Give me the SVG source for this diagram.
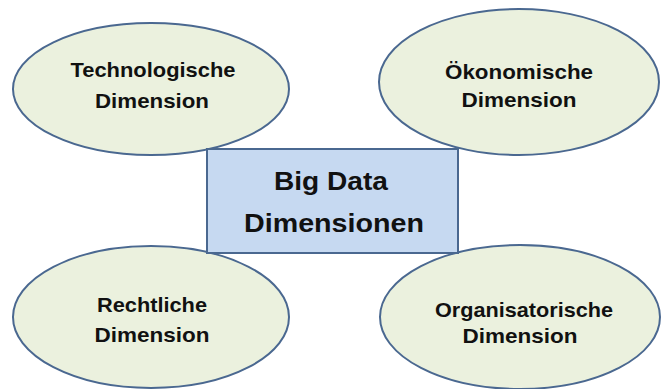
<svg xmlns="http://www.w3.org/2000/svg" width="661" height="389" viewBox="0 0 661 389">
<style>
.ell{fill:#EBF1DE;stroke:#4A6890;stroke-width:2}
.box{fill:#C6D9F1;stroke:#4A6890;stroke-width:2}
.t{font-family:"Liberation Sans",Arial,sans-serif;font-weight:bold;fill:#111;text-anchor:middle}
.s{font-size:21px}
.b{font-size:26px}
</style>
<rect width="661" height="389" fill="#FFFFFF"/>
<g id="connectors"/>
<g id="tech">
<ellipse class="ell" cx="151" cy="89" rx="138" ry="66"/>
<text class="t s" x="153" y="77" textLength="165" lengthAdjust="spacingAndGlyphs">Technologische</text>
<text class="t s" x="152" y="108" textLength="114" lengthAdjust="spacingAndGlyphs">Dimension</text>
</g>
<g id="oeko">
<ellipse class="ell" cx="519" cy="82" rx="140" ry="73"/>
<text class="t s" x="519" y="79" textLength="148" lengthAdjust="spacingAndGlyphs">Ökonomische</text>
<text class="t s" x="519" y="107" textLength="115" lengthAdjust="spacingAndGlyphs">Dimension</text>
</g>
<g id="recht">
<ellipse class="ell" cx="151" cy="317" rx="138" ry="71"/>
<text class="t s" x="152" y="312" textLength="110" lengthAdjust="spacingAndGlyphs">Rechtliche</text>
<text class="t s" x="152" y="342" textLength="115" lengthAdjust="spacingAndGlyphs">Dimension</text>
</g>
<g id="orga">
<ellipse class="ell" cx="520" cy="317" rx="140" ry="72"/>
<text class="t s" x="524" y="317" textLength="178" lengthAdjust="spacingAndGlyphs">Organisatorische</text>
<text class="t s" x="520" y="343" textLength="115" lengthAdjust="spacingAndGlyphs">Dimension</text>
</g>
<g id="center">
<rect class="box" x="207" y="149" width="251" height="104"/>
<text class="t b" x="331" y="190" textLength="114" lengthAdjust="spacingAndGlyphs">Big Data</text>
<text class="t b" x="334" y="232" textLength="180" lengthAdjust="spacingAndGlyphs">Dimensionen</text>
</g>
</svg>
